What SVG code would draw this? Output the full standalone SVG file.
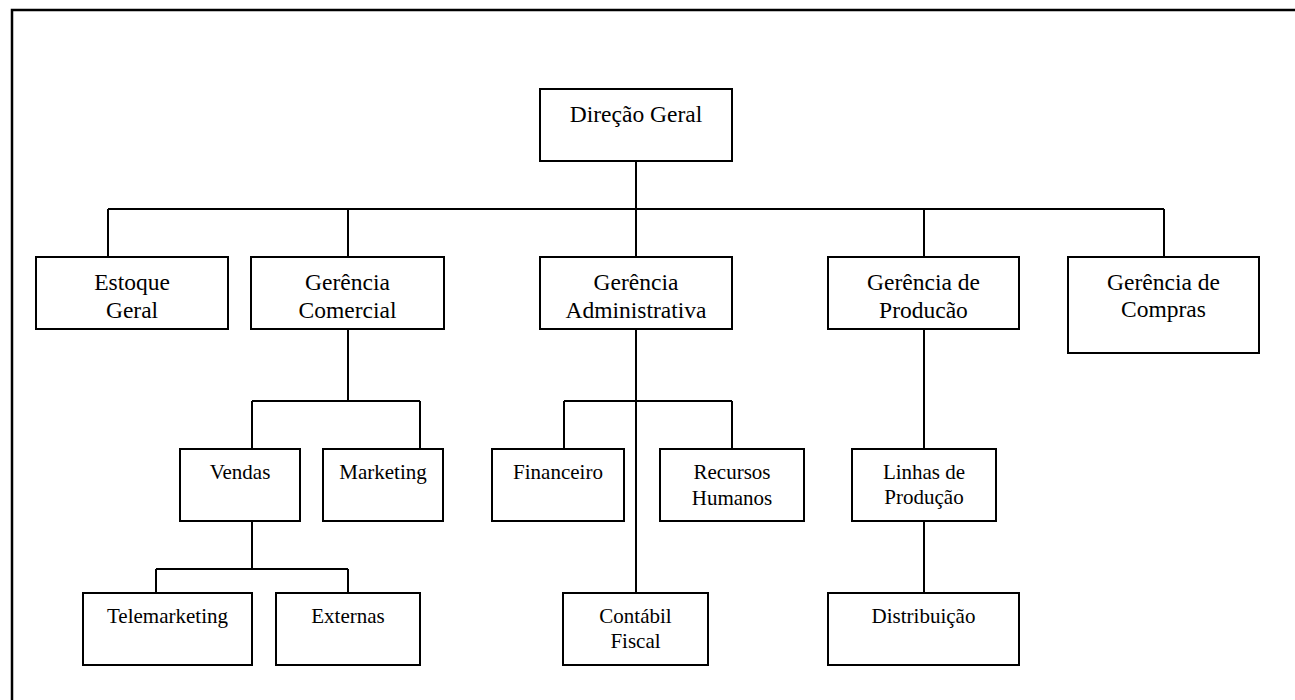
<svg xmlns="http://www.w3.org/2000/svg" width="1295" height="700" viewBox="0 0 1295 700">
<style>
.box{fill:#fff;stroke:#000;stroke-width:2}
.ln{fill:none;stroke:#000;stroke-width:2}
.t1{font-family:"Liberation Serif","Times New Roman",serif;font-size:23.5px;text-anchor:middle;fill:#000}
.t2{font-family:"Liberation Serif","Times New Roman",serif;font-size:21px;text-anchor:middle;fill:#000}
</style>
<rect x="0" y="0" width="1295" height="700" fill="#fff"/>
<rect x="12" y="10" width="1300" height="700" fill="none" stroke="#000" stroke-width="2.5"/>
<g id="connectors" class="ln">
<path d="M636 161V257"/>
<path d="M108 209H1164"/>
<path d="M108 209V257M348 209V257M924 209V257M1164 209V257"/>
<path d="M348 329V401M252 401H420M252 401V449M420 401V449"/>
<path d="M252 521V569M156 569H348M156 569V593M348 569V593"/>
<path d="M636 329V593M564 401H732M564 401V449M732 401V449"/>
<path d="M924 329V449M924 521V593"/>
</g>
<g id="direcao"><rect class="box" x="540" y="89" width="192" height="72"/><text class="t1" x="636" y="122">Direção Geral</text></g>
<g id="estoque"><rect class="box" x="36" y="257" width="192" height="72"/><text class="t1" x="132" y="290">Estoque</text><text class="t1" x="132" y="318">Geral</text></g>
<g id="comercial"><rect class="box" x="251" y="257" width="193" height="72"/><text class="t1" x="347.5" y="290">Gerência</text><text class="t1" x="347.5" y="318">Comercial</text></g>
<g id="administrativa"><rect class="box" x="540" y="257" width="192" height="72"/><text class="t1" x="636" y="290">Gerência</text><text class="t1" x="636" y="318">Administrativa</text></g>
<g id="producao"><rect class="box" x="828" y="257" width="191" height="72"/><text class="t1" x="923.5" y="290">Gerência de</text><text class="t1" x="923.5" y="318">Producão</text></g>
<g id="compras"><rect class="box" x="1068" y="257" width="191" height="96"/><text class="t1" x="1163.5" y="290">Gerência de</text><text class="t1" x="1163.5" y="317">Compras</text></g>
<g id="vendas"><rect class="box" x="180" y="449" width="120" height="72"/><text class="t2" x="240" y="479">Vendas</text></g>
<g id="marketing"><rect class="box" x="323" y="449" width="120" height="72"/><text class="t2" x="383" y="479">Marketing</text></g>
<g id="financeiro"><rect class="box" x="492" y="449" width="132" height="72"/><text class="t2" x="558" y="479">Financeiro</text></g>
<g id="rh"><rect class="box" x="660" y="449" width="144" height="72"/><text class="t2" x="732" y="479">Recursos</text><text class="t2" x="732" y="505">Humanos</text></g>
<g id="linhas"><rect class="box" x="852" y="449" width="144" height="72"/><text class="t2" x="924" y="479">Linhas de</text><text class="t2" x="924" y="504">Produção</text></g>
<g id="telemarketing"><rect class="box" x="83" y="593" width="169" height="72"/><text class="t2" x="167.5" y="623">Telemarketing</text></g>
<g id="externas"><rect class="box" x="276" y="593" width="144" height="72"/><text class="t2" x="348" y="623">Externas</text></g>
<g id="contabil"><rect class="box" x="563" y="593" width="145" height="72"/><text class="t2" x="635.5" y="623">Contábil</text><text class="t2" x="635.5" y="648">Fiscal</text></g>
<g id="distribuicao"><rect class="box" x="828" y="593" width="191" height="72"/><text class="t2" x="923.5" y="623">Distribuição</text></g>
</svg>
